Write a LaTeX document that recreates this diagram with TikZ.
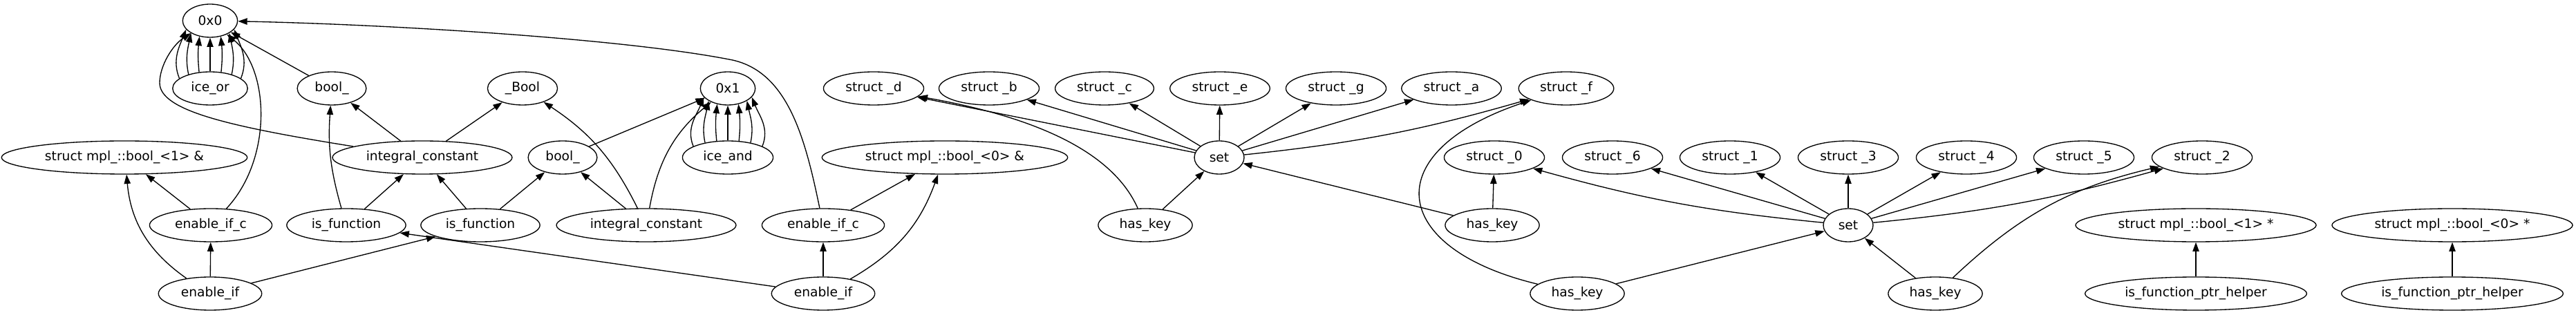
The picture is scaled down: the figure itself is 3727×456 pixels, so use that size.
\documentclass[tikz,border=0pt]{standalone}
\usepackage{fontspec}
\setmainfont{DejaVu Sans}
\usetikzlibrary{shapes.geometric, arrows.meta}

\begin{document}
\begin{tikzpicture}[x=0.75pt, y=0.75pt,
    sym/.style={draw, ellipse, line width=1pt, inner xsep=8pt, minimum width=54pt, minimum height=36pt, font=\fontsize{14pt}{17pt}\selectfont},
    dep/.style={line width=1pt, -{Triangle[length=10pt, width=7pt]}}]
  \useasboundingbox (0,0) rectangle (3727,456);

  % rank 1
  \node[sym] (zero) at (304,426) {0x0};
  % rank 2
  \node[sym] (iceor) at (304,328) {ice\_or};
  \node[sym] (boolA) at (480,328) {bool\_};
  \node[sym] (Bool) at (756,328) {\_Bool};
  \node[sym] (one) at (1053,328) {0x1};
  \node[sym] (sd) at (1264,328) {struct \_d};
  \node[sym] (sb) at (1431,328) {struct \_b};
  \node[sym] (sc) at (1598,328) {struct \_c};
  \node[sym] (se) at (1765,328) {struct \_e};
  \node[sym] (sg) at (1933,328) {struct \_g};
  \node[sym] (sa) at (2100,328) {struct \_a};
  \node[sym] (sf) at (2266,328) {struct \_f};
  % rank 3
  \node[sym] (bref1) at (180,228) {struct mpl\_::bool\_<1> \&};
  \node[sym] (intA) at (611,228) {integral\_constant};
  \node[sym] (boolB) at (814,228) {bool\_};
  \node[sym] (iceand) at (1053,228) {ice\_and};
  \node[sym] (bref0) at (1367,228) {struct mpl\_::bool\_<0> \&};
  \node[sym] (setA) at (1764,228) {set};
  \node[sym] (s0) at (2162,228) {struct \_0};
  \node[sym] (s6) at (2333,228) {struct \_6};
  \node[sym] (s1) at (2503,228) {struct \_1};
  \node[sym] (s3) at (2674,228) {struct \_3};
  \node[sym] (s4) at (2845,228) {struct \_4};
  \node[sym] (s5) at (3015,228) {struct \_5};
  \node[sym] (s2) at (3186,228) {struct \_2};
  % rank 4
  \node[sym] (enciA) at (305,130) {enable\_if\_c};
  \node[sym] (isfA) at (501,130) {is\_function};
  \node[sym] (isfB) at (695,130) {is\_function};
  \node[sym] (intB) at (935,130) {integral\_constant};
  \node[sym] (enciB) at (1191,130) {enable\_if\_c};
  \node[sym] (hkA) at (1657,130) {has\_key};
  \node[sym] (hkB) at (2159,130) {has\_key};
  \node[sym] (setB) at (2674,130) {set};
  \node[sym] (bptr1) at (3177,130) {struct mpl\_::bool\_<1> *};
  \node[sym] (bptr0) at (3548,130) {struct mpl\_::bool\_<0> *};
  % rank 5
  \node[sym] (enA) at (304,31) {enable\_if};
  \node[sym] (enB) at (1191,31) {enable\_if};
  \node[sym] (hkC) at (2282,31) {has\_key};
  \node[sym] (hkD) at (2800,31) {has\_key};
  \node[sym] (helper1) at (3177,31) {is\_function\_ptr\_helper};
  \node[sym] (helper0) at (3548,31) {is\_function\_ptr\_helper};

  % bundles of parallel edges
  \foreach \s/\e/\t/\f/\oa/\ia/\ob/\ib in {124/236/56/304/96/264/84/276, 147/213/33/327/102/258/78/282, 162/200/18/340/112/248/68/292} {
    \draw[dep] (iceor.\s) to[out=\oa, in=\ia] (zero.\e);
    \draw[dep] (iceor.\t) to[out=\ob, in=\ib] (zero.\f);
    \draw[dep] (iceand.\s) to[out=\oa, in=\ia] (one.\e);
    \draw[dep] (iceand.\t) to[out=\ob, in=\ib] (one.\f);
  }
  \draw[dep] (iceor) -- (zero);
  \draw[dep] (iceand) -- (one);

  % straight edges
  \foreach \a/\b in {boolA/zero, intA/boolA, intA/Bool, enciA/bref1, isfA/intA, isfB/intA,
      isfB/boolB, intB/boolB, boolB/one, enA/enciA, enA/isfB, enB/isfA, enciB/bref0, enB/enciB,
      setA/sd, hkA/setA, setA/sb, setA/sc, setA/se, setA/sg, setA/sa, hkB/setA, hkB/s0,
      hkC/setB, setB/s6, setB/s1, setB/s3, setB/s4, setB/s5, hkD/setB, helper1/bptr1, helper0/bptr0}
    \draw[dep] (\a) -- (\b);

  % curved edges
  \draw[dep] (intA) .. controls (330,273) and (231,296) .. (231,336) .. controls (231,361) and (250,391) .. (zero);
  \draw[dep] (enciA) .. controls (395,226) and (390,356) .. (zero);
  \draw[dep] (enciB) .. controls (1165,256) and (1140,351) .. (1060,369) .. controls (900,401) and (550,421) .. (zero);
  \draw[dep] (isfA) to[bend left=10] (boolA);
  \draw[dep] (intB) to[bend right=15] (Bool);
  \draw[dep] (enA) to[bend left=25] (bref1);
  \draw[dep] (intB) to[bend left=20] (one);
  \draw[dep] (enB) to[bend right=20] (bref0);
  \draw[dep] (hkA) .. controls (1610,236) and (1500,286) .. (sd);
  \draw[dep] (setA) to[bend right=5] (sf);
  \draw[dep] (hkC) .. controls (2010,96) and (1990,236) .. (sf);
  \draw[dep] (setB) to[bend left=5] (s0);
  \draw[dep] (setB) to[bend right=5] (s2);
  \draw[dep] (hkD) to[bend left=15] (s2);
\end{tikzpicture}
\end{document}
